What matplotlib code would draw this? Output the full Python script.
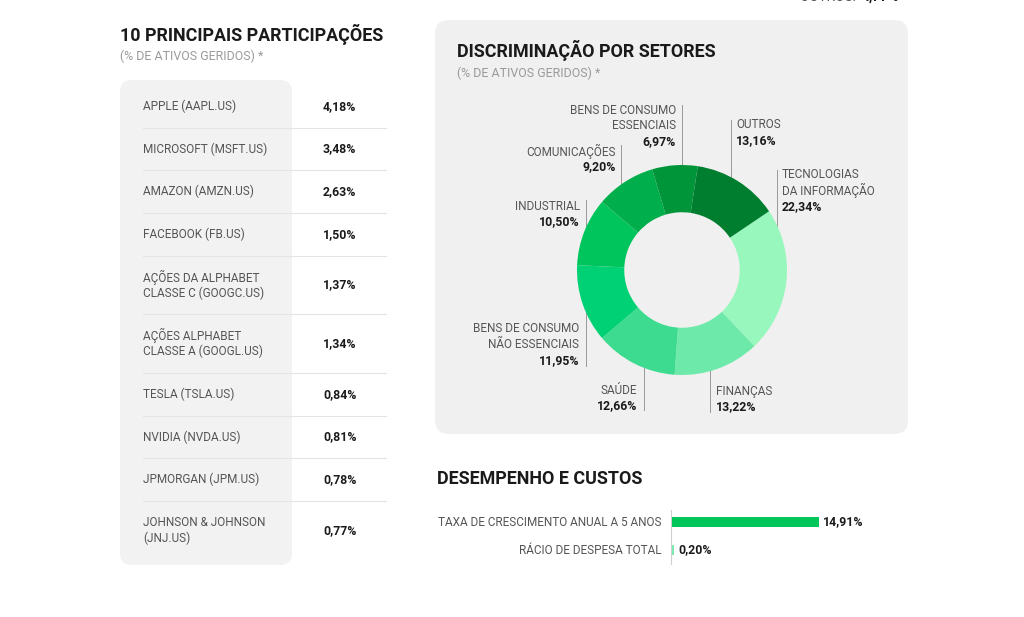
import matplotlib
matplotlib.use("Agg")
import matplotlib.pyplot as plt
from matplotlib.patches import FancyBboxPatch

plt.rcParams['font.family'] = ['Roboto', 'DejaVu Sans']

# --- data ---
holding_names = ["APPLE (AAPL.US)", "MICROSOFT (MSFT.US)", "AMAZON (AMZN.US)",
                 "FACEBOOK (FB.US)", "AÇÕES DA ALPHABET\nCLASSE C (GOOGC.US)",
                 "AÇÕES ALPHABET\nCLASSE A (GOOGL.US)", "TESLA (TSLA.US)",
                 "NVIDIA (NVDA.US)", "JPMORGAN (JPM.US)", "JOHNSON & JOHNSON\n(JNJ.US)"]
holding_values = ["4,18%", "3,48%", "2,63%", "1,50%", "1,37%",
                  "1,34%", "0,84%", "0,81%", "0,78%", "0,77%"]

sector_names = ["TECNOLOGIAS\nDA INFORMAÇÃO", "FINANÇAS", "SAÚDE",
                "BENS DE CONSUMO\nNÃO ESSENCIAIS", "INDUSTRIAL", "COMUNICAÇÕES",
                "BENS DE CONSUMO\nESSENCIAIS", "OUTROS"]
sector_values = [22.34, 13.22, 12.66, 11.95, 10.50, 9.20, 6.97, 13.16]
sector_colors = ["#98F7BC", "#6DEAAA", "#3DDB90", "#00D174",
                 "#00C55C", "#00AE4C", "#009539", "#007E30"]

perf_labels = ["TAXA DE CRESCIMENTO ANUAL A 5 ANOS", "RÁCIO DE DESPESA TOTAL"]
perf_values = [14.91, 0.20]
perf_colors = ["#00C65A", "#7DEBB0"]

# --- layout (pixels) ---
# label anchor x, first text line y, alignment, leader line x, line top, line bottom
sector_label_pos = [
    (782, 175, "left", 777, 170, 270),
    (716, 391, "left", 710, 342, 412),
    (637, 390, "right", 644, 343, 410),
    (579, 329, "right", 586, 270, 366),
    (580, 206, "right", 586, 200, 255),
    (616, 151, "right", 621, 145, 200),
    (676, 110, "right", 682, 105, 178),
    (736, 125, "left", 731, 120, 192),
]
LINE_H = 15.8

TXT = "#555555"
DARK = "#1a1a1a"
SUB = "#9a9a9a"

fig = plt.figure(figsize=(10.24, 6.17), dpi=100)
fig.patch.set_facecolor("white")
bg = fig.add_axes([0, 0, 1, 1])
bg.set_xlim(0, 1024)
bg.set_ylim(617, 0)
bg.axis("off")

# panels
bg.add_patch(FancyBboxPatch((120, 80), 172, 485, boxstyle="round,pad=0,rounding_size=12",
                            fc="#F2F2F2", ec="none", zorder=0))
bg.add_patch(FancyBboxPatch((435, 20), 473, 414, boxstyle="round,pad=0,rounding_size=14",
                            fc="#F0F0F0", ec="none", zorder=0))

# text cut off at the top edge (as in the source page)
bg.text(800, -3, "OUTROS: ", fontsize=10, color=TXT, va="center", ha="left")
bg.text(862, -3, "4,77%", fontsize=10, color=DARK, va="center", ha="left", weight="bold")

# left table
bg.text(120, 34, "10 PRINCIPAIS PARTICIPAÇÕES", fontsize=12.9, weight="bold",
        color=DARK, va="center")
bg.text(120, 56, "(% DE ATIVOS GERIDOS) *", fontsize=8.9, color=SUB, va="center")
top = 85
for i, (name, val) in enumerate(zip(holding_names, holding_values)):
    lines = name.split("\n")
    h = 58.5 if len(lines) > 1 else 42.7
    yc = top + h / 2
    y0 = yc - LINE_H * (len(lines) - 1) / 2
    for k, ln in enumerate(lines):
        bg.text(143, y0 + k * LINE_H, ln, fontsize=8.5, color=TXT, va="center")
    bg.text(323, yc, val, fontsize=8.8, color=DARK, weight="bold", va="center")
    top += h
    if i < len(holding_names) - 1:
        bg.plot([143, 386], [top, top], color="#E4E4E4", lw=0.8, zorder=1)

# donut
bg.text(457, 50, "DISCRIMINAÇÃO POR SETORES", fontsize=12.9, weight="bold",
        color=DARK, va="center")
bg.text(457, 73, "(% DE ATIVOS GERIDOS) *", fontsize=8.9, color=SUB, va="center")

cx, cy, R = 682, 270, 105
ax = fig.add_axes([(cx - R) / 1024, (617 - cy - R) / 617, 2 * R / 1024, 2 * R / 617])
ax.pie(sector_values, colors=sector_colors, startangle=34, counterclock=False,
       radius=1, wedgeprops=dict(width=0.45, edgecolor="none"))
ax.set_xlim(-1, 1)
ax.set_ylim(-1, 1)
ax.axis("off")

for name, val, pos in zip(sector_names, sector_values, sector_label_pos):
    x, y, ha, lx, ly0, ly1 = pos
    lines = name.split("\n")
    for k, ln in enumerate(lines):
        bg.text(x, y + k * LINE_H, ln, fontsize=8.5, color=TXT, ha=ha, va="center")
    bg.text(x, y + LINE_H * len(lines), f"{val:.2f}%".replace(".", ","), fontsize=8.8,
            color=DARK, weight="bold", ha=ha, va="center")
    bg.plot([lx, lx], [ly0, ly1], color="#9a9a9a", lw=0.7, zorder=5)

# performance bars
bg.text(437, 479, "DESEMPENHO E CUSTOS", fontsize=12.9, weight="bold", color=DARK, va="center")
bx0, bx1 = 672, 819
ax2 = fig.add_axes([bx0 / 1024, (617 - 564) / 617, (bx1 - bx0) / 1024, 56 / 617])
ypos = [0, 1]
ax2.barh(ypos, perf_values, color=perf_colors, height=0.38)
ax2.set_xlim(0, max(perf_values))
ax2.set_ylim(1.5, -0.5)
ax2.axis("off")
bg.plot([671, 671], [510, 564], color="#d0d0d0", lw=0.8)
for y, lab, v in zip(ypos, perf_labels, perf_values):
    ax2.text(-1.1, y, lab, fontsize=8.5, color=TXT, ha="right", va="center", clip_on=False)
    ax2.text(v + 0.45, y, f"{v:.2f}%".replace(".", ","), fontsize=8.8, color=DARK,
             weight="bold", ha="left", va="center", clip_on=False)

fig.savefig("out.png", dpi=100, facecolor="white")
